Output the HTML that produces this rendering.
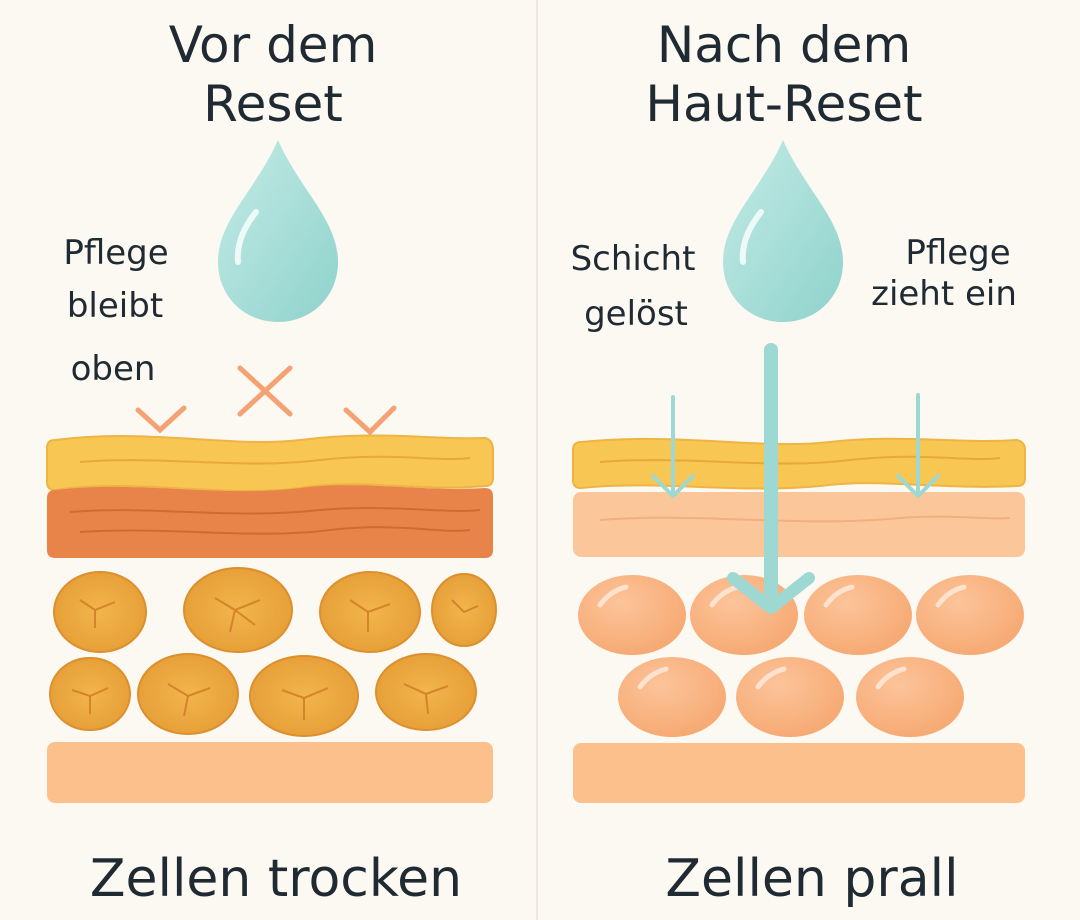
<!DOCTYPE html>
<html><head><meta charset="utf-8"><style>
html,body{margin:0;padding:0;background:#fcf9f3;}
svg{display:block}
text{font-family:"DejaVu Sans","Liberation Sans",sans-serif;fill:#1f2a33}
</style></head><body>
<svg width="1080" height="920" viewBox="0 0 1080 920" xmlns="http://www.w3.org/2000/svg">
<defs>
<linearGradient id="drop" x1="0" y1="0" x2="1" y2="1">
<stop offset="0" stop-color="#c4ebe6"/><stop offset="1" stop-color="#8fd2cc"/></linearGradient>
<radialGradient id="cell" cx="0.4" cy="0.35" r="0.7">
<stop offset="0" stop-color="#fcc49a"/><stop offset="1" stop-color="#f6a871"/></radialGradient>
<radialGradient id="dry" cx="0.5" cy="0.5" r="0.6">
<stop offset="0" stop-color="#f2b54c"/><stop offset="1" stop-color="#e59c35"/></radialGradient>
</defs>
<rect width="1080" height="920" fill="#fcf9f3"/>
<line x1="537" y1="0" x2="537" y2="920" stroke="#efe9df" stroke-width="2"/>

<!-- LEFT -->
<text x="273" y="62" font-size="50" text-anchor="middle">Vor dem</text>
<text x="273" y="121" font-size="50" text-anchor="middle">Reset</text>
<path d="M278 140 C300 190 338 220 338 262 C338 296 312 322 278 322 C244 322 218 296 218 262 C218 220 256 190 278 140Z" fill="url(#drop)"/>
<path d="M238 262 C236 240 248 222 256 212" stroke="#eefaf8" stroke-width="6" fill="none" stroke-linecap="round"/>
<text x="116" y="264" font-size="34" text-anchor="middle">Pflege</text>
<text x="115" y="317" font-size="34" text-anchor="middle">bleibt</text>
<text x="113" y="380" font-size="34" text-anchor="middle">oben</text>
<g stroke="#f4a273" stroke-width="5" fill="none" stroke-linecap="round">
<path d="M240 368 L290 414 M290 368 L240 414"/>
<path d="M138 410 L160 430 L184 408"/>
<path d="M346 410 L370 432 L394 408"/>
</g>
<path d="M55 440 C150 428 230 448 300 440 C380 430 430 440 485 438 Q493 440 493 450 L493 478 Q493 486 485 486 C420 492 360 478 300 488 C220 498 140 478 55 490 Q47 490 47 482 L47 448 Q47 440 55 440Z" fill="#f7c653" stroke="#eeb445" stroke-width="2"/>
<path d="M80 462 C160 455 240 470 320 460 C390 452 440 462 470 458" stroke="#e7a93a" stroke-width="2" fill="none"/>
<path d="M55 490 C140 480 220 498 300 488 C360 480 420 492 485 488 Q493 488 493 496 L493 550 Q493 558 485 558 L55 558 Q47 558 47 550 L47 498 Q47 490 55 490Z" fill="#e8844a"/>
<g stroke="#d06a35" stroke-width="2" fill="none">
<path d="M70 512 C150 505 230 520 320 510 C390 504 450 514 480 510"/>
<path d="M80 532 C170 526 250 540 330 530 C400 522 440 534 470 530"/>
</g>
<g fill="url(#dry)" stroke="#dc8f2c" stroke-width="2">
<ellipse cx="100" cy="612" rx="46" ry="40"/>
<ellipse cx="238" cy="610" rx="54" ry="42"/>
<ellipse cx="370" cy="612" rx="50" ry="40"/>
<ellipse cx="464" cy="610" rx="32" ry="36"/>
<ellipse cx="90" cy="694" rx="40" ry="36"/>
<ellipse cx="188" cy="694" rx="50" ry="40"/>
<ellipse cx="304" cy="696" rx="54" ry="40"/>
<ellipse cx="426" cy="692" rx="50" ry="38"/>
</g>
<g stroke="#d4842a" stroke-width="2" fill="none">
<path d="M80 600 l15 10 l20 -8 M95 610 l0 18"/>
<path d="M215 598 l20 12 l25 -10 M235 610 l-5 22 M235 610 l20 15"/>
<path d="M350 600 l18 12 l22 -8 M368 612 l0 20"/>
<path d="M452 600 l12 12 l14 -6"/>
<path d="M72 690 l18 6 l18 -8 M90 696 l0 18"/>
<path d="M168 684 l20 12 l22 -8 M188 696 l-4 20"/>
<path d="M282 690 l22 8 l24 -10 M304 698 l0 22"/>
<path d="M404 684 l22 10 l22 -8 M426 694 l2 20"/>
</g>
<rect x="47" y="742" width="446" height="61" rx="8" fill="#fbc08b"/>
<text x="276" y="896" font-size="52" text-anchor="middle">Zellen trocken</text>

<!-- RIGHT -->
<text x="784" y="62" font-size="50" text-anchor="middle">Nach dem</text>
<text x="784" y="121" font-size="50" text-anchor="middle">Haut-Reset</text>
<path d="M783 140 C805 190 843 220 843 262 C843 296 817 322 783 322 C749 322 723 296 723 262 C723 220 761 190 783 140Z" fill="url(#drop)"/>
<path d="M743 262 C741 240 753 222 761 212" stroke="#eefaf8" stroke-width="6" fill="none" stroke-linecap="round"/>
<text x="633" y="270" font-size="34" text-anchor="middle">Schicht</text>
<text x="636" y="325" font-size="34" text-anchor="middle">gelöst</text>
<text x="958" y="264" font-size="34" text-anchor="middle">Pflege</text>
<text x="944" y="305" font-size="34" text-anchor="middle">zieht ein</text>
<path d="M581 442 C680 432 760 450 830 442 C900 434 960 444 1017 440 Q1025 442 1025 450 L1025 478 Q1025 486 1017 486 C940 490 880 478 820 486 C740 494 660 480 581 488 Q573 488 573 480 L573 450 Q573 442 581 442Z" fill="#f7c653" stroke="#eeb445" stroke-width="2"/>
<path d="M600 462 C690 455 770 470 850 460 C920 452 970 462 1000 458" stroke="#e7a93a" stroke-width="2" fill="none"/>
<rect x="573" y="492" width="452" height="65" rx="8" fill="#fbc79a"/>
<path d="M600 520 C700 512 800 528 900 518 C950 514 990 520 1010 518" stroke="#f0b07f" stroke-width="2" fill="none"/>
<g fill="url(#cell)">
<ellipse cx="632" cy="615" rx="54" ry="40"/>
<ellipse cx="744" cy="615" rx="54" ry="40"/>
<ellipse cx="858" cy="615" rx="54" ry="40"/>
<ellipse cx="970" cy="615" rx="54" ry="40"/>
<ellipse cx="672" cy="697" rx="54" ry="40"/>
<ellipse cx="790" cy="697" rx="54" ry="40"/>
<ellipse cx="910" cy="697" rx="54" ry="40"/>
</g>
<g stroke="#fde3cf" stroke-width="5" fill="none" stroke-linecap="round">
<path d="M600 605 q10 -14 26 -18"/><path d="M712 605 q10 -14 26 -18"/><path d="M826 605 q10 -14 26 -18"/><path d="M938 605 q10 -14 26 -18"/>
<path d="M640 687 q10 -14 26 -18"/><path d="M758 687 q10 -14 26 -18"/><path d="M878 687 q10 -14 26 -18"/>
</g>
<rect x="573" y="743" width="452" height="60" rx="8" fill="#fbc08b"/>
<g stroke="#9ed8d2" fill="none" stroke-linecap="round" stroke-linejoin="round">
<path d="M771 350 L771 605" stroke-width="14"/>
<path d="M733 578 L771 608 L809 578" stroke-width="12"/>
<path d="M673 397 L673 494" stroke-width="4"/>
<path d="M653 476 L673 496 L693 476" stroke-width="4"/>
<path d="M918 395 L918 494" stroke-width="4"/>
<path d="M898 476 L918 496 L938 476" stroke-width="4"/>
</g>
<text x="812" y="896" font-size="52" text-anchor="middle">Zellen prall</text>
</svg>
</body></html>
